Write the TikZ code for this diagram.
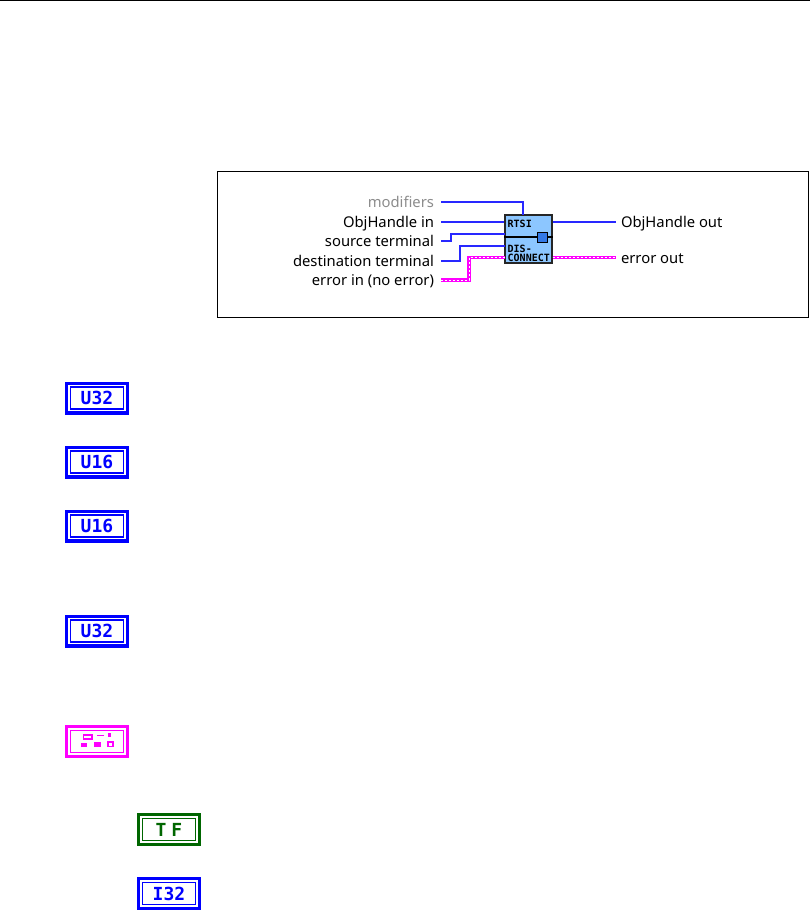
\documentclass[tikz,border=0pt]{standalone}
\usepackage{fontspec}
\setmainfont{Noto Sans}
\newfontfamily\pinfont{DejaVu Sans Mono}
\definecolor{wireblue}{RGB}{40,40,255}
\definecolor{errpink}{RGB}{255,0,255}
\definecolor{vifill}{RGB}{140,198,255}
\definecolor{btnblue}{RGB}{50,120,230}
\definecolor{tfgreen}{RGB}{0,102,0}
\tikzset{
	inlabel/.style={anchor=east,inner sep=0pt,outer sep=7pt,text height=11pt,text depth=0pt,font=\fontsize{14.8}{14.8}\selectfont},
	outlabel/.style={anchor=west,inner sep=0pt,outer sep=5pt,text height=11pt,text depth=0pt,font=\fontsize{14.8}{14.8}\selectfont},
	wire/.style={draw=wireblue,line width=1.4pt},
	errwire/.style={draw=errpink,line width=3.6pt,postaction={draw=white,line width=1pt,dash pattern=on 2pt off 2pt}},
	vibox/.style={draw=black!85,line width=1.3pt,fill=vifill,minimum width=47pt,minimum height=48pt,inner sep=0pt},
	vitext/.style={inner sep=0pt,font=\pinfont\bfseries\fontsize{10}{10}\selectfont},
	tout/.style={fill=#1,minimum width=64pt,minimum height=33pt,inner sep=0pt},
	tin/.style={draw=#1,text=#1,fill=white,line width=1.3pt,preaction={draw=white,line width=4.2pt},minimum width=53pt,minimum height=22pt,inner sep=0pt,font=\pinfont\bfseries\fontsize{18}{18}\selectfont},
}
\begin{document}
\begin{tikzpicture}[x=1pt, y=-1pt]
	\useasboundingbox (0,0) rectangle (810,910);
	%filet du haut et cadre
	\draw[line width=1pt] (0,0.5) -- (810,0.5);
	\draw[line width=1pt] (217,171) rectangle (808,317);
	%le bloc
	\node[vibox] (vi) at (528.5,239) {};
	\draw[line width=1.2pt] (vi.west |- 0,237) -- (vi.east |- 0,237);
	\node[draw=black,line width=1.4pt,fill=btnblue,minimum width=10pt,minimum height=10pt,inner sep=0pt] (vibtn) at (542.5,237.5) {};
	\node[vitext,anchor=west] (vitop) at (507.5,223.5) {RTSI};
	\node[vitext,anchor=west] (vimid) at (507.5,248.5) {DIS-};
	\node[vitext,anchor=west] (vilow) at (507.5,257.5) {CONNECT};
	\coordinate (pinmod) at (523,215);
	\coordinate (pinsrc) at (505,234);
	\coordinate (pindst) at (505,246);
	\coordinate (pinerr) at (505,257.5);
	%les libelles
	\node[inlabel,text=black!45] (modifiers) at (441,202) {modifiers};
	\node[inlabel] (hin) at (441,222) {ObjHandle in};
	\node[inlabel] (src) at (441,241) {source terminal};
	\node[inlabel] (dst) at (441,261) {destination terminal};
	\node[inlabel] (errin) at (441,280) {error in (no error)};
	\node[outlabel] (hout) at (616,222) {ObjHandle out};
	\node[outlabel] (errout) at (616,257.5) {error out};
	%les fils
	\draw[wire] (modifiers.east) -| (pinmod);
	\draw[wire] (hin.east) -- (vi.west |- hin.east);
	\draw[wire] (src.east) -- ++(10,0) |- (pinsrc);
	\draw[wire] (dst.east) -- ++(19,0) |- (pindst);
	\draw[errwire] (errin.east) -- ++(28,0) |- (pinerr);
	\draw[wire] (vi.east |- hout.west) -- (hout.west);
	\draw[errwire] (vi.east |- errout.west) -- (errout.west);
	%les terminaux
	\node[tout=blue] (u32a) at (97,398) {};
	\node[tin=blue] (u32atext) at (u32a) {U32};
	\node[tout=blue] (u16a) at (97,462) {};
	\node[tin=blue] (u16atext) at (u16a) {U16};
	\node[tout=blue] (u16b) at (97,526) {};
	\node[tin=blue] (u16btext) at (u16b) {U16};
	\node[tout=blue] (u32b) at (97,631) {};
	\node[tin=blue] (u32btext) at (u32b) {U32};
	\node[tout=errpink] (clust) at (97,741.5) {};
	\node[tin=errpink] (clustin) at (clust) {};
	\node[tout=tfgreen] (tf) at (169,829.5) {};
	\node[tin=tfgreen] (tftext) at (tf) {T\kern5pt F};
	\node[tout=blue] (i32) at (169,893.5) {};
	\node[tin=blue] (i32text) at (i32) {I32};
	%le motif du cluster
	\draw[errpink,line width=1.4pt] (83.5,735) rectangle (92,739);
	\fill[errpink] (96.5,734.5) rectangle (103.5,736);
	\fill[errpink] (107.5,732.5) rectangle (111,736.5);
	\fill[errpink] (81,743) rectangle (86.5,746.5);
	\fill[errpink] (93.5,741.5) rectangle (100.5,746.5);
	\draw[errpink,line width=1.4pt] (108,742) rectangle (113,746.5);
\end{tikzpicture}
\end{document}
